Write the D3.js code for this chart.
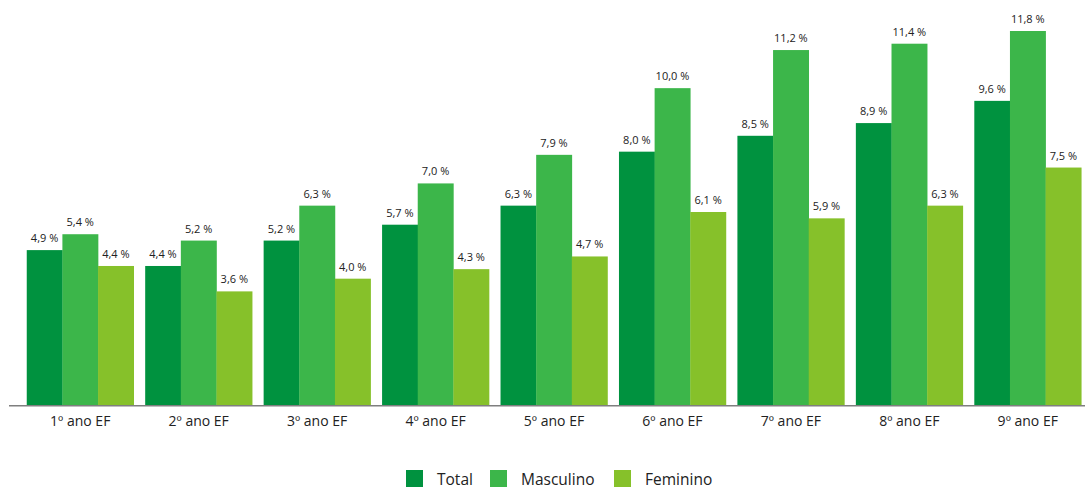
<!DOCTYPE html>
<html lang="pt">
<head>
<meta charset="UTF-8" />
<title>Taxa por ano EF</title>
<script src="https://d3js.org/d3.v7.min.js"></script>
<style>
  body { margin: 0; background: #fff; font-family: "Open Sans", "DejaVu Sans", sans-serif; }
  svg text { fill: #222; }
</style>
</head>
<body>
<div id="chart"></div>
<script>
// data
const categories = ["1º ano EF", "2º ano EF", "3º ano EF", "4º ano EF", "5º ano EF",
                    "6º ano EF", "7º ano EF", "8º ano EF", "9º ano EF"];
const seriesNames = ["Total", "Masculino", "Feminino"];
const total     = [4.9, 4.4, 5.2, 5.7, 6.3, 8.0, 8.5, 8.9, 9.6];
const masculino = [5.4, 5.2, 6.3, 7.0, 7.9, 10.0, 11.2, 11.4, 11.8];
const feminino  = [4.4, 3.6, 4.0, 4.3, 4.7, 6.1, 5.9, 6.3, 7.5];
const colors = ["#00923f", "#3cb64a", "#86c12a"];

const seriesValues = [total, masculino, feminino];
const width = 1091, height = 488;
const font = "'Open Sans', 'DejaVu Sans', sans-serif";

const svg = d3.select("#chart").append("svg")
  .attr("width", width)
  .attr("height", height)
  .attr("font-family", font);

const x = d3.scaleBand()
  .domain(categories)
  .range([21, 1087])
  .paddingInner(0.097)
  .paddingOuter(0.0485);

const xs = d3.scaleBand()
  .domain(seriesNames)
  .range([0, x.bandwidth()]);

const y = d3.scaleLinear()
  .domain([0, 11.8])
  .range([405.7, 31]);

const fmt = v => d3.format(".1f")(v).replace(".", ",") + " %";

const groups = svg.selectAll("g.grp")
  .data(categories)
  .enter().append("g")
  .attr("class", "grp")
  .attr("transform", d => `translate(${x(d)},0)`);

seriesNames.forEach((s, si) => {
  groups.append("rect")
    .attr("x", xs(s))
    .attr("y", (d, i) => y(seriesValues[si][i]))
    .attr("width", xs.bandwidth() + 0.3)
    .attr("height", (d, i) => y(0) - y(seriesValues[si][i]))
    .attr("fill", colors[si]);

  groups.append("text")
    .attr("x", xs(s) + xs.bandwidth() / 2)
    .attr("y", (d, i) => y(seriesValues[si][i]) - 8)
    .attr("text-anchor", "middle")
    .attr("font-size", 11)
    .text((d, i) => fmt(seriesValues[si][i]));
});

// baseline axis
const xAxis = svg.append("g")
  .attr("transform", `translate(0,${y(0)})`)
  .call(d3.axisBottom(x).tickSize(0).tickPadding(10));
xAxis.select(".domain").attr("d", "M9,0H1085").attr("stroke", "#7f7f7f").attr("stroke-width", 1.5);
xAxis.selectAll("text")
  .attr("font-size", 14)
  .attr("font-family", font)
  .attr("fill", "#222");

// legend
const legend = svg.append("g").attr("transform", "translate(406,470)");
const legX = [0, 84, 208];
seriesNames.forEach((s, i) => {
  const g = legend.append("g").attr("transform", `translate(${legX[i]},0)`);
  g.append("rect").attr("width", 17).attr("height", 17).attr("fill", colors[i]);
  g.append("text").attr("x", 31).attr("y", 14.5).attr("font-size", 15.5).text(s);
});
</script>
</body>
</html>
